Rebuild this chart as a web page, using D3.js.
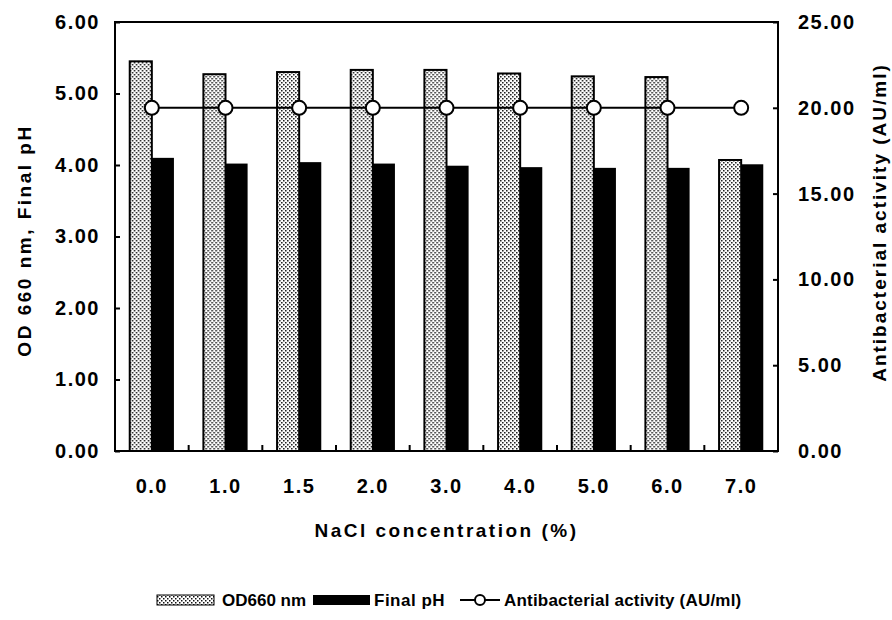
<!DOCTYPE html>
<html>
<head>
<meta charset="utf-8">
<script src="https://cdn.jsdelivr.net/npm/d3@7"></script>
<style>
  body { margin: 0; background: #fff; }
  svg text { font-family: "Liberation Sans", Arial, sans-serif; font-weight: bold; fill: #000; }
</style>
</head>
<body>
<svg id="chart" width="892" height="620"></svg>
<script>
// data
const categories = ["0.0", "1.0", "1.5", "2.0", "3.0", "4.0", "5.0", "6.0", "7.0"];
const od660 = [5.45, 5.27, 5.30, 5.33, 5.33, 5.28, 5.24, 5.23, 4.07];
const finalPH = [4.10, 4.02, 4.04, 4.02, 3.99, 3.97, 3.96, 3.96, 4.01];
const activity = [20, 20, 20, 20, 20, 20, 20, 20, 20];
const leftTicks = [0, 1, 2, 3, 4, 5, 6];
const rightTicks = [0, 5, 10, 15, 20, 25];

const width = 892, height = 620;
const margin = { left: 115, right: 114, top: 22, bottom: 169 };
const plotW = width - margin.left - margin.right;
const plotH = height - margin.top - margin.bottom;

const svg = d3.select("#chart");

// dotted fill like the print
const defs = svg.append("defs");
const pat = defs.append("pattern")
  .attr("id", "dots")
  .attr("patternUnits", "userSpaceOnUse")
  .attr("width", 4)
  .attr("height", 4);
pat.append("rect").attr("width", 4).attr("height", 4).attr("fill", "#fff");
pat.append("rect").attr("x", 0).attr("y", 0).attr("width", 1.5).attr("height", 1.5).attr("fill", "#111");
pat.append("rect").attr("x", 2).attr("y", 2).attr("width", 1.5).attr("height", 1.5).attr("fill", "#111");

const g = svg.append("g").attr("transform", `translate(${margin.left},${margin.top})`);

const x = d3.scaleBand().domain(categories).range([0, plotW]).paddingInner(0.4).paddingOuter(0.2);
const xSub = d3.scaleBand().domain(["od", "ph"]).range([0, x.bandwidth()]);
const y = d3.scaleLinear().domain([0, 6]).range([plotH, 0]);
const yR = d3.scaleLinear().domain([0, 25]).range([plotH, 0]);

const rows = categories.map((c, i) => ({ c, od: od660[i], ph: finalPH[i], act: activity[i] }));

// bars
const grp = g.selectAll(".grp").data(rows).join("g")
  .attr("class", "grp")
  .attr("transform", d => `translate(${x(d.c)},0)`);

grp.append("rect")
  .attr("x", xSub("od"))
  .attr("y", d => y(d.od))
  .attr("width", xSub.bandwidth())
  .attr("height", d => y(0) - y(d.od))
  .attr("fill", "url(#dots)")
  .attr("stroke", "#000")
  .attr("stroke-width", 2);

grp.append("rect")
  .attr("x", xSub("ph"))
  .attr("y", d => y(d.ph))
  .attr("width", xSub.bandwidth())
  .attr("height", d => y(0) - y(d.ph))
  .attr("fill", "#000");

// frame
g.append("rect")
  .attr("width", plotW).attr("height", plotH)
  .attr("fill", "none").attr("stroke", "#000").attr("stroke-width", 2);

// left axis
const yAxis = d3.axisLeft(y).tickValues(leftTicks).tickFormat(d3.format(".2f")).tickSize(-5).tickPadding(15);
g.append("g").call(yAxis).call(a => {
  a.select(".domain").remove();
  a.selectAll("line").attr("stroke-width", 2);
  a.selectAll("text").style("font-size", "20px").style("letter-spacing", "1.5px");
});

// right axis
const yAxisR = d3.axisRight(yR).tickValues(rightTicks).tickFormat(d3.format(".2f")).tickSize(-5).tickPadding(20);
g.append("g").attr("transform", `translate(${plotW},0)`).call(yAxisR).call(a => {
  a.select(".domain").remove();
  a.selectAll("line").attr("stroke-width", 2);
  a.selectAll("text").style("font-size", "20px").style("letter-spacing", "1.5px");
});

// x axis: labels under each group, ticks at group boundaries
const xAxis = d3.axisBottom(x).tickSize(0).tickPadding(28);
g.append("g").attr("transform", `translate(0,${plotH})`).call(xAxis).call(a => {
  a.select(".domain").remove();
  a.selectAll("text").style("font-size", "20px").style("letter-spacing", "1.5px");
});
const step = x.step();
g.selectAll(".xtick").data(categories.slice(1)).join("line")
  .attr("class", "xtick")
  .attr("x1", d => x(d) - x.paddingInner() * step / 2)
  .attr("x2", d => x(d) - x.paddingInner() * step / 2)
  .attr("y1", plotH).attr("y2", plotH - 6)
  .attr("stroke", "#000").attr("stroke-width", 2);

// antibacterial activity line
const line = d3.line().x(d => x(d.c) + x.bandwidth() / 2).y(d => yR(d.act));
g.append("path").datum(rows).attr("d", line)
  .attr("fill", "none").attr("stroke", "#000").attr("stroke-width", 2);
g.selectAll(".pt").data(rows).join("circle")
  .attr("class", "pt")
  .attr("cx", d => x(d.c) + x.bandwidth() / 2)
  .attr("cy", d => yR(d.act))
  .attr("r", 7)
  .attr("fill", "#fff").attr("stroke", "#000").attr("stroke-width", 2);

// axis titles
svg.append("text")
  .attr("transform", `translate(31,${margin.top + plotH / 2 + 4}) rotate(-90)`)
  .attr("text-anchor", "middle")
  .style("font-size", "19px")
  .style("letter-spacing", "2.5px")
  .text("OD 660 nm, Final pH");

svg.append("text")
  .attr("transform", `translate(886,${margin.top + plotH / 2 - 14}) rotate(-90)`)
  .attr("text-anchor", "middle")
  .style("font-size", "19px")
  .style("letter-spacing", "2px")
  .text("Antibacterial activity (AU/ml)");

svg.append("text")
  .attr("x", margin.left + plotW / 2)
  .attr("y", 537)
  .attr("text-anchor", "middle")
  .style("font-size", "19px")
  .style("letter-spacing", "2.5px")
  .text("NaCl concentration (%)");

// legend
const lg = svg.append("g").attr("transform", "translate(157,600)");
lg.append("rect").attr("x", 0).attr("y", -5).attr("width", 57).attr("height", 10)
  .attr("fill", "url(#dots)").attr("stroke", "#000").attr("stroke-width", 1);
lg.append("text").attr("x", 65).attr("y", 6).style("font-size", "17px").text("OD660 nm");
lg.append("rect").attr("x", 156).attr("y", -5).attr("width", 57).attr("height", 10).attr("fill", "#000");
lg.append("text").attr("x", 217).attr("y", 6).style("font-size", "17px").style("letter-spacing", "0.5px").text("Final pH");
lg.append("line").attr("x1", 303).attr("x2", 343).attr("y1", 0).attr("y2", 0)
  .attr("stroke", "#000").attr("stroke-width", 2);
lg.append("circle").attr("cx", 323).attr("cy", 0).attr("r", 5)
  .attr("fill", "#fff").attr("stroke", "#000").attr("stroke-width", 2);
lg.append("text").attr("x", 347).attr("y", 6).style("font-size", "17px").style("letter-spacing", "0.2px").text("Antibacterial activity (AU/ml)");
</script>
</body>
</html>
